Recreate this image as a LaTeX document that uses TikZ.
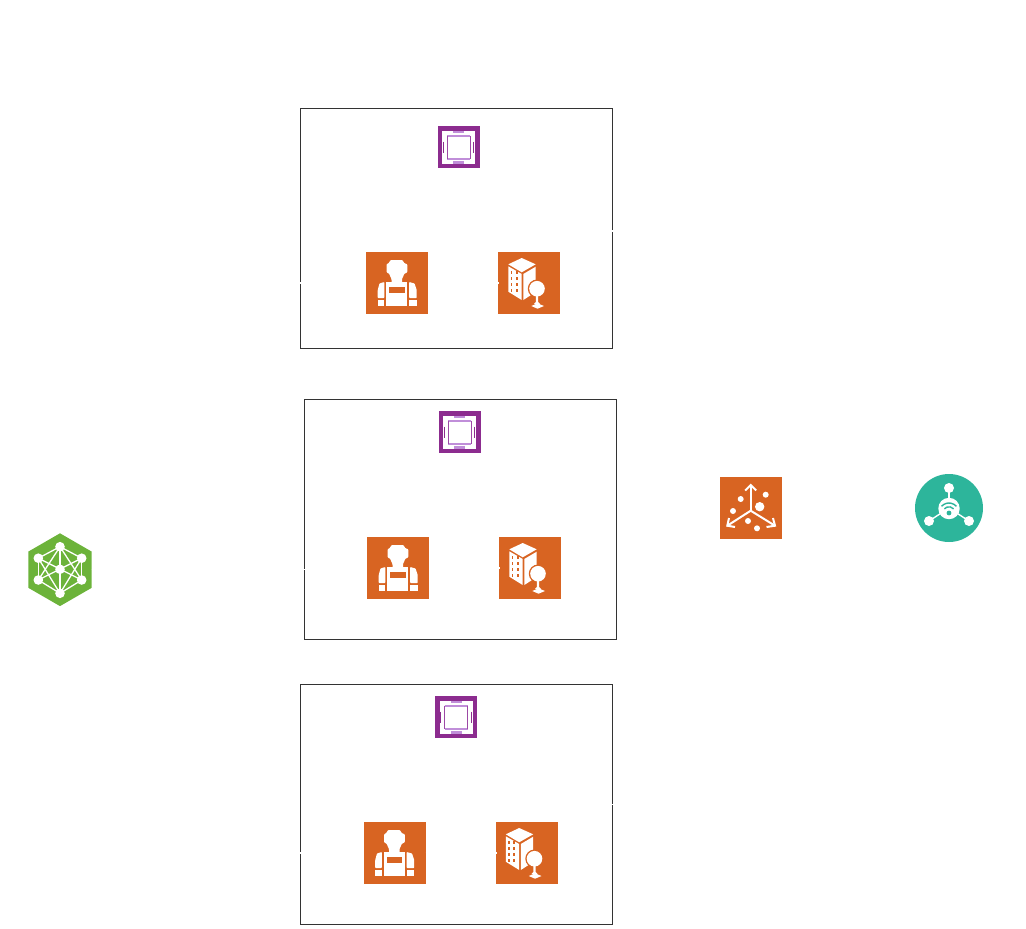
\documentclass[tikz,border=0pt]{standalone}
\usepackage{tikz}
\usetikzlibrary{shapes.geometric}

\definecolor{awsorange}{HTML}{D86422}
\definecolor{chippurple}{HTML}{8C2C8F}
\definecolor{chiplight}{HTML}{C08ED9}
\definecolor{netgreen}{HTML}{6CB33A}
\definecolor{hubteal}{HTML}{2DB59B}

\tikzset{
    groupbox/.style={draw=black!80, line width=0.1mm, minimum width=31.2cm/10, minimum height=24cm/10, inner sep=0pt, outer sep=0pt},
    awsicon/.style={fill=awsorange, minimum size=6.2mm, inner sep=0pt, outer sep=0pt},
    chipicon/.style={fill=chippurple, minimum size=4.2mm, inner sep=0pt, outer sep=0pt},
    netlink/.style={white, line width=0.15mm},
    outlink/.style={white, line width=0.11mm},
    workerglyph/.pic={
        \begin{scope}[shift={(-31,-31)}]
        \fill[white, rounded corners=0.25pt] (24.5,8) -- (36.5,8) -- (38.5,11.5) -- (41.3,12) -- (41.3,20.5) -- (38.5,21.5) -- (36,27) -- (36,31) -- (25.5,31) -- (25.5,27) -- (23,21.5) -- (20.5,20.5) -- (20.5,12) -- (22.5,11.5) -- cycle;
        \fill[white] (20,30) rectangle (41.3,54);
        \fill[white, rounded corners=0.2pt] (18.3,30) -- (13.5,31.5) -- (11.7,38) -- (11.7,46) -- (18.3,46) -- cycle;
        \fill[white, rounded corners=0.2pt] (43.2,30) -- (48.5,31.5) -- (50.7,38) -- (50.7,46) -- (43.2,46) -- cycle;
        \fill[white] (11.7,47.5) rectangle (18.3,54);
        \fill[white] (43.2,47.5) rectangle (50.7,54);
        \fill[awsorange] (23.3,34.7) rectangle (38.7,40.7);
        \end{scope}
    },
    buildingglyph/.pic={
        \begin{scope}[shift={(-31,-31)}]
        \fill[white] (23.7,6) -- (37.7,12.3) -- (23.7,20.3) -- (10.3,12.3) -- cycle;
        \fill[white] (10.3,14.3) -- (23.7,22) -- (23.7,48) -- (10.3,39.7) -- cycle;
        \fill[white] (25.3,22) -- (37.7,14.7) -- (37.7,40) -- (25.3,48) -- cycle;
        \foreach \wx in {13.5,18.7} {
            \foreach \wy in {19,25,31,37} {
                \draw[awsorange, line width=0.16mm] (\wx,\wy) -- (\wx,\wy+2.5);
            }
        }
        \fill[awsorange] (39,36.7) circle (9.2);
        \fill[white] (39,36.7) circle (7.8);
        \fill[white] (38,44) -- (40,44) -- (40.2,50) -- (42,52) -- (36,52) -- (37.8,50) -- cycle;
        \fill[white] (33.3,54) -- (39.5,51.3) -- (46,54) -- (39.5,56.7) -- cycle;
        \end{scope}
    },
    chipglyph/.pic={
        \fill[white] (-16.5,-16.5) rectangle (16.5,16.5);
        \draw[chiplight, line width=0.2mm] (-11.5,-11.5) -- (11.5,-11.5);
        \draw[chiplight, line width=0.2mm] (-11.5,11.5) -- (11.5,11.5);
        \draw[chippurple!70!chiplight, line width=0.1mm] (-11.5,-11.5) -- (-11.5,11.5);
        \draw[chippurple!70!chiplight, line width=0.1mm] (11.5,-11.5) -- (11.5,11.5);
        \fill[chiplight] (-5.5,-16.5) rectangle (5.5,-14.3);
        \fill[chiplight] (-5.5,14.3) rectangle (5.5,16.5);
        \draw[chippurple, line width=0.12mm] (-15.3,-5.5) -- (-15.3,5.5);
        \draw[chippurple, line width=0.12mm] (15.3,-5.5) -- (15.3,5.5);
    },
    netglyph/.pic={
        \coordinate (n1) at (0,-23);
        \coordinate (n2) at (-21.7,-11.5);
        \coordinate (n3) at (21.7,-11.5);
        \coordinate (n4) at (-21.7,10.3);
        \coordinate (n5) at (21.7,10.3);
        \coordinate (n6) at (0,23.6);
        \coordinate (n7) at (0,-0.4);
        \foreach \a/\b in {n1/n2, n1/n3, n1/n4, n1/n5, n1/n6, n6/n2, n6/n3, n6/n4, n6/n5, n2/n4, n3/n5, n2/n5, n3/n4} {
            \draw[white, line width=0.13mm] (\a) -- (\b);
        }
        \foreach \a in {n1,n2,n3,n4,n5,n6,n7} {
            \fill[white] (\a) circle (4.8);
        }
    },
    scatterglyph/.pic={
        \begin{scope}[shift={(-31,-31)}]
        \draw[white, line width=0.2mm] (30.7,33.7) -- (30.7,8);
        \draw[white, line width=0.2mm] (30.7,33.7) -- (7.3,48.7);
        \draw[white, line width=0.2mm] (30.7,33.7) -- (55,48.7);
        \draw[white, line width=0.2mm] (25.2,13.5) -- (30.7,8) -- (36.2,13.5);
        \draw[white, line width=0.2mm] (9,41) -- (7.3,48.7) -- (15,50);
        \draw[white, line width=0.2mm] (46.5,50) -- (55,48.7) -- (53,41);
        \foreach \dx/\dy/\dr in {20.7/22/3, 45.7/17.7/3, 39.7/29.7/4.7, 13/34/3, 28/44/3, 37/51.3/3} {
            \fill[white] (\dx,\dy) circle (\dr);
        }
        \end{scope}
    },
    hubglyph/.pic={
        \draw[white, line width=0.14mm] (0,-20) -- (0,0);
        \draw[white, line width=0.14mm] (-20,13) -- (0,0);
        \draw[white, line width=0.14mm] (20,13) -- (0,0);
        \fill[white] (0,-20) circle (5);
        \fill[white] (-20,13) circle (5);
        \fill[white] (20,13) circle (5);
        \fill[white] (0,0.5) circle (10.7);
        \draw[hubteal, line width=0.14mm] (0,5) ++(222:10) arc[start angle=222, end angle=318, radius=10];
        \draw[hubteal, line width=0.14mm] (0,5) ++(222:6.2) arc[start angle=222, end angle=318, radius=6.2];
        \fill[hubteal] (0,5) circle (2.4);
    },
}

\begin{document}
\begin{tikzpicture}[x=0.1mm, y=-0.1mm]
    \useasboundingbox (0,0) rectangle (1026,928);

    % the three groups
    \foreach \grp/\bx/\by/\cx/\cy/\wx/\wy/\hx in {A/456.5/228.5/458.5/147/397/283/529, B/460/519.5/459.5/432/398/568/530, C/456.5/804.5/456/717/394.5/853/526.5} {
        \node[groupbox] (box\grp) at (\bx,\by) {};
        \node[chipicon] (chip\grp) at (\cx,\cy) {};
        \pic at (chip\grp.center) {chipglyph};
        \node[awsicon] (worker\grp) at (\wx,\wy) {};
        \pic at (worker\grp.center) {workerglyph};
        \node[awsicon] (bld\grp) at (\hx,\wy) {};
        \pic at (bld\grp.center) {buildingglyph};
        \draw[netlink, shorten >=-0.1mm] (worker\grp) -- (bld\grp);
    }

    % left and right of the groups
    \node[regular polygon, regular polygon sides=6, shape border rotate=30, fill=netgreen, minimum size=7.28mm, inner sep=0pt, outer sep=0pt] (net) at (60,569.7) {};
    \pic at (net.center) {netglyph};
    \node[awsicon] (scatter) at (751,508) {};
    \pic at (scatter.center) {scatterglyph};
    \node[circle, fill=hubteal, minimum size=6.8mm, inner sep=0pt, outer sep=0pt] (hub) at (949,508) {};
    \pic at (hub.center) {hubglyph};

    % links, white like the page
    \coordinate (outA) at (611.5,231);
    \coordinate (outC) at (611.5,804.5);
    \draw[netlink] (net.east) -- ++(100,0) |- (workerA.west);
    \draw[netlink] (net.east) -- (workerB.west |- net.east);
    \draw[netlink] (net.east) -- ++(100,0) |- (workerC.west);
    \draw[outlink] (outA) -- ++(50,0) |- (scatter.west);
    \draw[outlink] (outC) -- ++(50,0) |- (scatter.west);
    \draw[netlink] (scatter) -- (hub);
\end{tikzpicture}
\end{document}
